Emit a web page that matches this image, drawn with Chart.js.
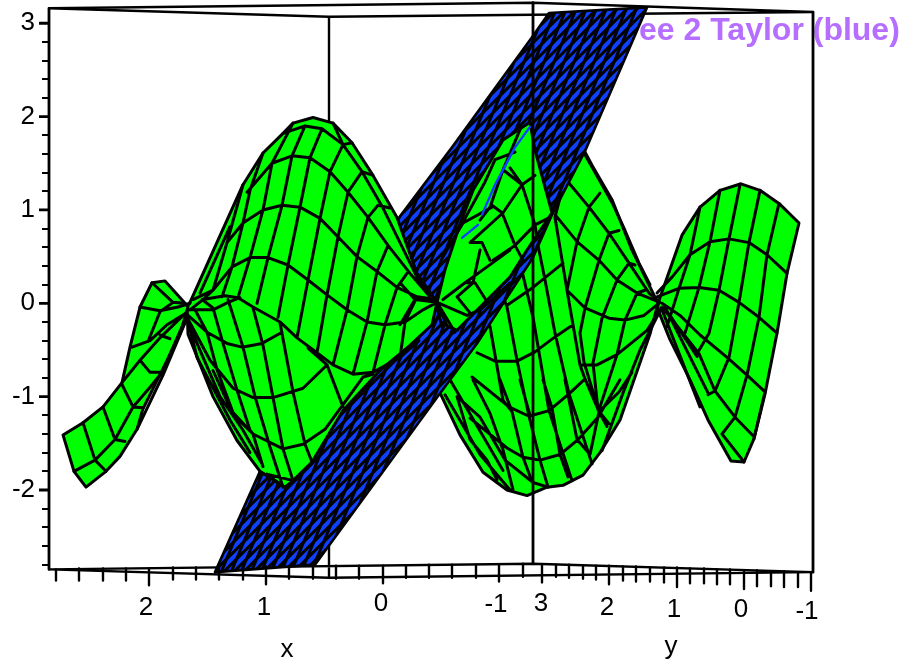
<!DOCTYPE html>
<html><head><meta charset="utf-8">
<script src="https://cdn.jsdelivr.net/npm/chart.js@4"></script>
<style>html,body{margin:0;padding:0;background:#fff}canvas{display:block}</style>
</head><body><canvas id="c" width="904" height="668"></canvas>
<script>
// Every mark is a polyline of flat [across, z, across, z, ...].
// "across" is the projected horizontal position, z is the vertical axis value.
const zTicks=[3,2.8,2.6,2.4,2.2,2,1.8,1.6,1.4,1.2,1,0.8,0.6,0.4,0.2,0,-0.2,-0.4,-0.6,-0.8,-1,-1.2,-1.4,-1.6,-1.8,-2,-2.2,-2.4,-2.6,-2.8];
const zMajor=[3,2,1,0,-1,-2];
const axisLabels=["2","1","0","-1","3","2","1","0","-1","x","y"];
const axisLabelAcross=[146,264,381,496,541,607,674,741,807,287,671];
const axisLabelZ=[-3.34,-3.34,-3.30,-3.31,-3.30,-3.34,-3.36,-3.36,-3.38,-3.79,-3.76];
const titleText="ee 2 Taylor (blue)";
const titleAcross=639, titleZ=2.82;

const tickAcross=[56,79,103,126,149,173,196,219,243,266,289,313,336,359,383,406,429,452,476,499,523,542,556,569,583,596,609,623,636,650,664,677,690,704,717,730,744,757,771,784,798,811];
const tickTopZ=[-2.85,-2.84,-2.84,-2.84,-2.84,-2.83,-2.83,-2.83,-2.82,-2.82,-2.82,-2.82,-2.81,-2.81,-2.81,-2.81,-2.80,-2.80,-2.80,-2.80,-2.79,-2.80,-2.80,-2.80,-2.81,-2.81,-2.81,-2.82,-2.82,-2.83,-2.83,-2.83,-2.84,-2.84,-2.85,-2.85,-2.86,-2.86,-2.87,-2.87,-2.88,-2.88];
const tickEndZ=[-2.97,-2.97,-2.97,-2.97,-3.02,-2.96,-2.96,-2.96,-2.96,-3.01,-2.95,-2.95,-2.95,-2.95,-3.00,-2.94,-2.94,-2.94,-2.94,-2.98,-2.93,-2.99,-2.93,-2.94,-2.95,-2.96,-3.01,-2.97,-2.98,-2.98,-2.99,-3.04,-3.00,-3.00,-3.01,-3.01,-3.06,-3.03,-3.03,-3.04,-3.04,-3.08];

const boxBack=[
 [329,3.07,329,-2.94],
 [49,3.16,329,3.07,813,3.12],
 [49,3.16,533,3.22,813,3.12],
 [49,-2.85,329,-2.94,813,-2.88],
 [49,-2.85,533,-2.79,813,-2.88]
];
const boxFront=[
 [49,3.16,49,-2.85],
 [533,3.22,533,-2.79],
 [813,3.12,813,-2.88],
 [39,3,49,3],[39,2,49,2],[39,1,49,1],[39,0,49,0],[39,-1,49,-1],[39,-2,49,-2]
];

const stripOutline=[63,-1.41,83,-1.28,103,-1.11,122,-.85,130,-.47,140,-.04,152,.22,165,.24,185,0,188,-.04,180,-.33,163,-.70,143,-1.13,137,-1.35,120,-1.64,106,-1.80,86,-1.97,74,-1.80];
const stripMesh=[
 [132,-.47,150,-.40,167,-.23,187,-.10],
 [140,-.04,160,-.08,178,-.04,190,0],
 [152,.22,173,.01],
 [160,-.09,173,.01,185,0],
 [148,-.41,160,-.09],
 [160,-.34,170,-.38],
 [140,-.61,150,-.74],
 [122,-.87,133,-1.11,143,-1.12],
 [74,-1.80,95,-1.68,115,-1.46,133,-1.11,150,-.90,162,-.74,187,-.13],
 [150,-.74,162,-.74],
 [122,-.85,140,-.61,160,-.37,187,-.09],
 [83,-1.28,95,-1.68,106,-1.80],
 [103,-1.11,115,-1.46,125,-1.48],
 [137,-1.35,163,-.77,187,-.16]
];

const humpOutline=[187,-.04,190,.01,227,.89,243,1.27,263,1.61,283,1.82,293,1.93,313,1.99,333,1.93,352,1.72,373,1.37,397,.92,417,.32,437,.01,432,-.23,410,-.45,380,-.72,343,-1.15,312,-1.70,293,-1.90,285,-1.97,260,-1.80,237,-1.47,213,-1.00,188,-.33];
const humpMesh=[
 [283,1.82,305,1.90,322,1.87,343,1.70,362,1.41,383,1.02,400,.65,417,.28,430,.09],
 [247,1.19,272,1.50,292,1.58,310,1.56,330,1.41,348,1.19,368,.92,388,.62,410,.32,430,.07],
 [227,.65,243,.86,263,1.00,282,1.05,300,1.03,320,.91,338,.71,357,.50,377,.34,397,.17,417,.07,437,.04],
 [193,.04,213,.14,232,.39,250,.49,268,.49,288,.41,308,.25,327,.09,347,-.07,367,-.20,385,-.23,405,-.20,423,-.07,437,.01],
 [190,-.07,203,.04,225,.08,238,.06,253,-.04,280,-.20,297,-.37,317,-.53,333,-.66,353,-.76,373,-.74,400,-.58,419,-.40],
 [170,-.07,190,-.07,213,-.07,228,.01,240,.06],
 [188,-.13,207,-.31,227,-.43,242,-.47,262,-.43,282,-.31],
 [187,-.15,210,-.61,233,-.91,253,-1.01,273,-1.01,303,-.91,327,-.66],
 [213,-.72,233,-1.19,253,-1.40,283,-1.56,303,-1.51,325,-1.35,363,-.79,373,-.76],
 [260,-1.81,270,-1.86,285,-1.97],
 [267,-1.83,293,-1.90],
 [187,-.18,220,-1.00,243,-1.36,262,-1.72],
 [187,-.15,197,-.58,230,-1.25,250,-1.60],
 [293,1.93,272,1.50,263,1.00,250,.49,238,.06],
 [305,1.90,292,1.58,282,1.05,268,.49,257,0],
 [322,1.87,310,1.56,300,1.03,288,.41,278,-.15],
 [343,1.70,330,1.41,320,.91,308,.25,297,-.37],
 [362,1.41,348,1.19,338,.71,327,.09,317,-.53],
 [378,1.05,368,.92,357,.50,347,-.07,333,-.66],
 [388,.62,377,.34,367,-.20,353,-.76],
 [407,.32,397,.17,385,-.23,373,-.74],
 [417,.07,405,-.20,400,-.58],
 [263,1.61,250,1.21,243,.86,232,.39,222,.07],
 [243,1.27,227,.65,213,.14,203,.04],
 [200,.11,230,.82],
 [333,1.93,343,1.70],[352,1.72,343,1.70],[373,1.37,362,1.41],[390,1.02,378,1.05],
 [195,-.07,207,-.31,217,-.71,233,-1.17,253,-1.40],
 [213,-.05,223,-.43,237,-.93,250,-1.36,253,-1.40,263,-1.75],
 [228,.04,243,-.47,255,-1.00,270,-1.54,283,-1.97],
 [253,-.05,263,-.45,273,-1.01,283,-1.56,293,-1.90],
 [280,-.21,293,-.95,305,-1.51,312,-1.70],
 [308,-.48,327,-.66,343,-1.11],
 [202,.04,213,-.05],
 [400,-.23,415,.04,437,.01],
 [415,.04,400,.22]
];

const wedgeOutline=[437,.01,445,.36,460,.85,473,1.21,503,1.75,530,1.94,535,1.64,552,.97,527,.57,510,.28,457,-.29,447,-.24];
const wedgeMesh=[
 [515,1.62,495,1.54,485,1.30,463,.87],
 [520,1.86,503,1.43,490,1.03,480,.89],
 [510,1.45,522,1.27,503,.97,470,.65],
 [522,1.27,535,1.37],
 [503,1.43,522,1.27],
 [492,1.05,502,.97,515,.62,523,.46],
 [472,.65,482,.65,490,.46],
 [522,1.27,535,.84,537,.70],
 [550,.92,535,.84,515,.62,493,.46],
 [492,1.03,463,.86,443,.50],
 [510,.57,487,.39,465,.22,443,.04],
 [480,.57,473,.22,457,.07],
 [465,.22,475,.22,488,0],
 [437,.01,467,-.13,480,-.07,488,0,510,.22],
 [457,.07,472,-.13],
 [437,.01,455,-.31],
 [437,-.05,443,-.29]
];
const wedgeSlivers=[
 [530,1.89,515,1.67,495,1.27,482,.95],
 [478,.84,462,.70]
];

const bowlOutline=[437,.01,500,1.43,540,1.86,584,1.64,592,1.48,612,1.11,632,.57,658,0,650,-.33,620,-1.25,600,-1.60,583,-1.84,563,-1.95,547,-1.97,527,-2.06,507,-2.00,483,-1.81,460,-1.41,440,-.96,430,-.71];
const bowlMesh=[
 [584,1.61,592,1.46,612,1.08,625,.78,639,.43,650,.20],
 [565,1.34,589,1.03,609,.75,629,.43,649,.11,660,.01],
 [555,.95,577,.66,599,.46,617,.25,637,.11,660,.01],
 [507,-.02,533,.17,563,.43],
 [567,.14,585,-.05,609,-.16,625,-.18,644,-.13,660,.01],
 [477,-.53,495,-.62,517,-.62,535,-.52,555,-.36,573,-.23],
 [580,-.66,597,-.66,617,-.55,647,-.29,662,-.04],
 [472,-.79,509,-1.11,529,-1.21,549,-1.15,569,-.97,585,-.81],
 [599,-1.16,619,-.95,632,-.74],
 [470,-1.23,507,-1.55,523,-1.65,540,-1.68,560,-1.62,578,-1.46,598,-1.22,620,-.82],
 [457,-1.00,480,-1.22,505,-1.68,533,-1.92,548,-1.97],
 [555,.92,567,.14,580,-.66,585,-.81,599,-1.16,609,-1.29],
 [589,1.03,577,.66,567,.14],
 [609,.75,599,.46,585,-.05,580,-.32,584,-.63,599,-1.16],
 [629,.43,617,.25,602,-.16,593,-.64,598,-1.14,607,-1.32],
 [645,.14,637,.11,625,-.18,617,-.55,600,-1.11,590,-1.62],
 [662,-.04,640,-.50,623,-.96,602,-1.58],
 [600,1.18,589,1.03],[619,.78,609,.75],[635,.41,629,.43],
 [582,1.61,565,1.34,555,.92],
 [535,.78,545,.25,555,-.32,569,-.97,592,-1.72],
 [517,.57,533,-.15,549,-1.15,572,-1.90],
 [490,.43,507,-.04,517,-.61,529,-1.21,540,-1.68,548,-1.97],
 [490,-.25,503,-1.04,512,-1.16,523,-1.65,532,-1.91],
 [473,-.82,490,-1.18,503,-1.57,513,-2.00],
 [457,-1.00,470,-1.46,487,-1.68,497,-1.89],
 [543,-.82,552,-1.12,560,-1.62,568,-1.86],
 [565,-.82,577,-1.46,590,-1.62],
 [500,-.82,512,-1.16],[520,-.82,530,-1.20],
 [445,-.98,480,-1.62,510,-2.00],
 [450,-.82,485,-1.46,503,-1.79]
];

const farOutline=[658,0,682,.73,700,1.03,720,1.21,741,1.28,760,1.21,780,1.06,799,.86,787,.32,777,-.32,765,-.97,754,-1.45,744,-1.70,731,-1.69,708,-1.25,690,-.82,670,-.39,658,-.07];
const farMesh=[
 [787,.32,767,.52,749,.65,729,.69,710,.66,690,.52,672,.28,657,.11],
 [777,-.32,759,-.15,739,.01,719,.14,699,.17,679,.16,655,.06],
 [662,0,680,-.13,700,-.34,727,-.58,747,-.77,765,-.95],
 [663,-.05,699,-.54,715,-.94,735,-1.22,754,-1.43],
 [700,1.03,690,.52,679,.16,667,-.25],
 [720,1.21,710,.66,699,.17,685,-.32],
 [740,1.27,729,.69,719,.14,709,-.32,697,-.54],
 [760,1.21,749,.65,739,.01,729,-.58,715,-.94,708,-.98],
 [779,1.07,767,.52,759,-.15,747,-.77,735,-1.22,722,-1.40],
 [765,-.95,754,-1.45],
 [722,-1.40,744,-1.70],
 [662,-.07,700,-1.11],
 [665,-.04,708,-.96],
 [670,-.13,697,-.57]
];

const planeOutline=[215,-2.88,240,-2.28,260,-1.80,340,-.30,397,.89,452,1.67,532,2.85,549,3.11,647,3.17,585,1.63,552,.95,533,.49,477,-.43,437,-1.01,315,-2.80];
// Mesh families of the plane: across at the low and at the high end of each line.
const planeLowZ=-2.96, planeHighZ=3.25;
const planeFamilyALow=[-24,-14,-4,6,16,26,36,46,56,66,76,86,96,106,116,126,136,146,156,166,176,186,196,206,216,226,236,246,256,266,276,286,296,306,316];
const planeFamilyAHigh=[556,566,576,586,596,606,616,626,636,646,656,666,676,686,696,706,716,726,736,746,756,766,776,786,796,806,816,826,836,846,856,866,876,886,896];
const planeFamilyBLow=[208,218,228,238,248,258,268,278,288,298,308,318,328,338,348,358,368,378,388,398,408];
const planeFamilyBHigh=[450,460,470,480,490,500,510,520,530,540,550,560,570,580,590,600,610,620,630,640,650];

const BLACK='#000', GREEN='#00ff00', BLUE='#1040ff', PURPLE='#b56eff';
const FONT='"Liberation Sans", Arial, sans-serif';
const MESH=3;

function toPoints(flat,close){
  const out=[];
  for(let i=0;i<flat.length;i+=2) out.push({x:flat[i],y:flat[i+1]});
  if(close) out.push({x:flat[0],y:flat[1]});
  return out;
}
function toBroken(lines){
  const out=[];
  lines.forEach(l=>{out.push(...toPoints(l,false));out.push({x:null,y:null});});
  return out;
}
function pairs(across1,z1,across2,z2){
  return across1.map((a,i)=>[a,Array.isArray(z1)?z1[i]:z1,across2[i],Array.isArray(z2)?z2[i]:z2]);
}
const base={pointRadius:0,pointHoverRadius:0,tension:0,borderJoinStyle:'round',borderCapStyle:'round',spanGaps:false,clip:false,fill:false};
function patch(outline,mesh,color,w){
  return [
    {...base,data:toPoints(outline,true),backgroundColor:color,borderColor:BLACK,borderWidth:w,fill:'shape'},
    {...base,data:toBroken(mesh),borderColor:BLACK,borderWidth:w}
  ];
}
const layers=[
  {...base,data:toBroken(boxBack),borderColor:BLACK,borderWidth:2.4},
  ...patch(farOutline,farMesh,GREEN,MESH),
  ...patch(bowlOutline,bowlMesh,GREEN,MESH),
  {...base,data:toPoints(planeOutline,true),backgroundColor:BLUE,borderColor:BLACK,borderWidth:2.6,fill:'shape'},
  {...base,data:toBroken(pairs(planeFamilyALow,planeLowZ,planeFamilyAHigh,planeHighZ)),borderColor:BLACK,borderWidth:3,clipTo:planeOutline},
  {...base,data:toBroken(pairs(planeFamilyBLow,planeLowZ,planeFamilyBHigh,planeHighZ)),borderColor:BLACK,borderWidth:3,clipTo:planeOutline},
  ...patch(humpOutline,humpMesh,GREEN,MESH),
  ...patch(wedgeOutline,wedgeMesh,GREEN,MESH),
  {...base,data:toBroken(wedgeSlivers),borderColor:BLUE,borderWidth:2.4},
  ...patch(stripOutline,stripMesh,GREEN,MESH),
  {...base,data:toBroken(pairs(tickAcross,tickTopZ,tickAcross,tickEndZ)),borderColor:BLACK,borderWidth:2.4,borderCapStyle:'butt'},
  {...base,data:toBroken(boxFront),borderColor:BLACK,borderWidth:2.8,borderCapStyle:'butt'}
];
const N=layers.length;
layers.forEach((d,i)=>{d.order=N-i;});

const clipPlugin={
  id:'clipTo',
  beforeDatasetDraw(chart,args){
    const ds=chart.data.datasets[args.index];
    if(!ds.clipTo) return;
    const c=chart.ctx,sx=chart.scales.x,sy=chart.scales.y;
    c.save();c.beginPath();
    for(let i=0;i<ds.clipTo.length;i+=2){
      const px=sx.getPixelForValue(ds.clipTo[i]),py=sy.getPixelForValue(ds.clipTo[i+1]);
      i?c.lineTo(px,py):c.moveTo(px,py);
    }
    c.closePath();c.clip();
  },
  afterDatasetDraw(chart,args){
    if(chart.data.datasets[args.index].clipTo) chart.ctx.restore();
  }
};
const textPlugin={
  id:'axisText',
  beforeDatasetsDraw(chart){
    const c=chart.ctx,sx=chart.scales.x,sy=chart.scales.y;
    c.save();
    c.fillStyle=PURPLE;c.font='bold 32px '+FONT;c.textAlign='left';c.textBaseline='alphabetic';
    c.fillText(titleText,sx.getPixelForValue(titleAcross),sy.getPixelForValue(titleZ));
    c.fillStyle=BLACK;c.font='26px '+FONT;c.textAlign='center';
    axisLabels.forEach((t,i)=>c.fillText(t,sx.getPixelForValue(axisLabelAcross[i]),sy.getPixelForValue(axisLabelZ[i])));
    c.restore();
  }
};

new Chart(document.getElementById('c'),{
  type:'line',
  data:{datasets:layers},
  plugins:[clipPlugin,textPlugin],
  options:{
    responsive:false,animation:false,events:[],
    layout:{padding:0,autoPadding:false},
    plugins:{legend:{display:false},title:{display:false},tooltip:{enabled:false}},
    scales:{
      x:{type:'linear',display:false,min:49,max:904},
      y:{type:'linear',min:-3.907,max:3.249,
        afterBuildTicks(s){s.ticks=zTicks.map(v=>({value:v}));},
        afterFit(s){s.width=49;s.paddingTop=0;s.paddingBottom=0;},
        border:{display:false},
        grid:{drawOnChartArea:false,drawTicks:true,tickLength:7,color:BLACK,lineWidth:2},
        ticks:{autoSkip:false,maxRotation:0,padding:7,color:BLACK,font:{family:FONT,size:26},
          callback(v){return zMajor.includes(v)?String(v):'';}}
      }
    }
  }
});
</script></body></html>
